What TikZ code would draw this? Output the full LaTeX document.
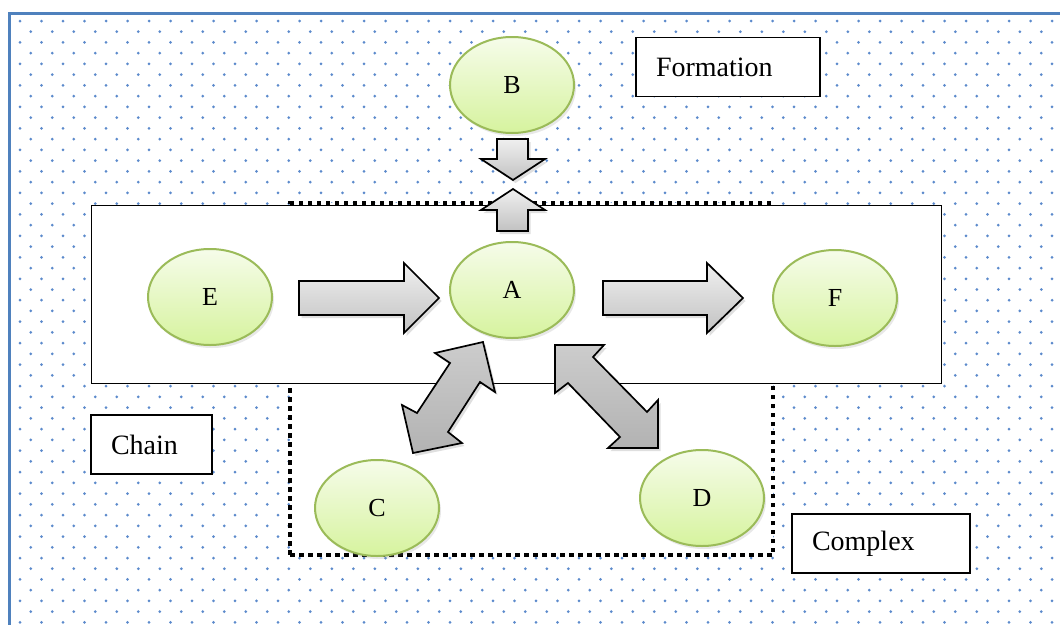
\documentclass[tikz,border=0pt]{standalone}
\usepackage{fontspec}
\setmainfont{Liberation Serif}
\usetikzlibrary{shapes.geometric,shadows}
\definecolor{dotblue}{RGB}{92,138,204}
\definecolor{frameblue}{RGB}{79,129,189}
\definecolor{leafedge}{RGB}{155,187,89}
\definecolor{leaftop}{RGB}{246,252,234}
\definecolor{leafbot}{RGB}{214,243,158}
\begin{document}
\begin{tikzpicture}[x=1pt,y=-1pt,
  softshadow/.style={drop shadow={opacity=0.18,shadow xshift=2pt,shadow yshift=-3pt}},
  blob/.style={ellipse,draw=leafedge,line width=2pt,top color=leaftop,bottom color=leafbot,
    minimum width=124pt,minimum height=96pt,inner sep=0pt,softshadow,
    font=\fontsize{26}{26}\selectfont},
  tag/.style={draw=black,line width=1.4pt,fill=white,minimum height=59pt,inner xsep=20pt,
    inner ysep=0pt,align=left,font=\fontsize{28}{28}\selectfont},
  blockarrow/.style={draw=black,line width=1.7pt,line join=miter,
    drop shadow={opacity=0.25,shadow xshift=2.5pt,shadow yshift=-3pt}},
  lightarrow/.style={blockarrow,top color=black!6,bottom color=black!24},
  darkarrow/.style={blockarrow,top color=black!20,bottom color=black!30},
  groupframe/.style={draw=black,line width=1pt,fill=white},
  dotframe/.style={draw=black,line width=4.5pt,dash pattern=on 4.5pt off 4.5pt,fill=white}
]
\useasboundingbox (0,0) rectangle (1060,624);
\begin{scope}
\clip (0,0) rectangle (1060,624);
\fill[white] (0,0) rectangle (1060,624);
% dotted backdrop, staggered rows
\foreach \r in {0,...,56}{
  \pgfmathsetmacro\yy{21+10.74*\r}
  \pgfmathsetmacro\xs{mod(\r,2)==0 ? 20 : 30.75}
  \fill[dotblue] \foreach \c in {0,...,48}{(\xs+21.5*\c,\yy) circle (1.5pt)};
}
% page frame
\draw[frameblue,line width=3pt] (1080,13) -- (9.5,13) -- (9.5,640);
\end{scope}

% complex group (dotted) and chain group
\node[dotframe,minimum width=483pt,minimum height=352pt,inner sep=0pt] (complexbox) at (531.5,379) {};
\node[groupframe,minimum width=850pt,minimum height=178pt,inner sep=0pt] (chainbox) at (516,294) {};

% captions
\node[tag,text width=144pt,minimum width=184pt] (formation) at (728,67) {Formation};
\node[tag,text width=81pt,minimum width=121pt] (chain) at (151.5,444.5) {Chain};
\node[tag,text width=138pt,minimum width=178pt] (complex) at (881,543.5) {Complex};

% block arrows
\path[lightarrow] (497,139) -- (528,139) -- (528,159) -- (545,159) -- (513,180)
  -- (481,159) -- (497,159) -- cycle;
\path[lightarrow] (513,189) -- (545,210) -- (528,210) -- (528,231) -- (497,231)
  -- (497,210) -- (481,210) -- cycle;
\path[lightarrow] (299,281) -- (404,281) -- (404,263) -- (439,298) -- (404,333)
  -- (404,315) -- (299,315) -- cycle;
\path[lightarrow] (603,281) -- (707,281) -- (707,263) -- (743,298) -- (707,333)
  -- (707,315) -- (603,315) -- cycle;
\path[darkarrow] (483,342) -- (495,392) -- (480,382) -- (448,432) -- (462,443)
  -- (413,453) -- (402,405) -- (417,413) -- (450,363) -- (435,353) -- cycle;
\path[darkarrow] (555,345) -- (604,345) -- (593,357) -- (647,412) -- (658,400)
  -- (658,448) -- (608,448) -- (620,437) -- (568,383) -- (555,393) -- cycle;

% elements
\node[blob] (B) at (512,85) {B};
\node[blob] (A) at (512,290) {A};
\node[blob] (E) at (210,297) {E};
\node[blob] (F) at (835,298) {F};
\node[blob] (C) at (377,508) {C};
\node[blob] (D) at (702,498) {D};
\end{tikzpicture}
\end{document}
